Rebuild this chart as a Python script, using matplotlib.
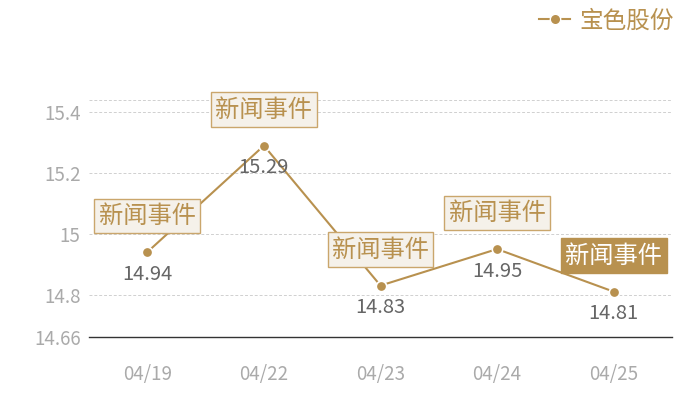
import matplotlib
matplotlib.use("Agg")
import matplotlib.pyplot as plt
from matplotlib.lines import Line2D

plt.rcParams['font.family'] = ['Noto Sans CJK SC', 'DejaVu Sans']

dates = ["04/19", "04/22", "04/23", "04/24", "04/25"]
prices = [14.94, 15.29, 14.83, 14.95, 14.81]
events = ["新闻事件", "新闻事件", "新闻事件", "新闻事件", "新闻事件"]
highlight = [False, False, False, False, True]
yticks = [14.66, 14.8, 15, 15.2, 15.4]
ytick_labels = ["14.66", "14.8", "15", "15.2", "15.4"]
series_name = "宝色股份"

gold = "#b8914f"
edge = "#caa66c"
boxface = "#f5f1ea"

fig = plt.figure(figsize=(7, 4), dpi=100)
ax = fig.add_axes([89/700, (400-337.3)/400, (672-89)/700, (337.3-100)/400])

x = list(range(len(dates)))
ax.plot(x, prices, color=gold, lw=1.5, marker='o', ms=7.5, mfc=gold,
        mec='white', mew=1.2, zorder=3)

ymin = min(prices) - 0.15
ymax = max(prices) + 0.15
ax.set_ylim(ymin, ymax)
ax.set_xlim(-0.5, len(dates) - 0.5)

for yv in yticks[1:] + [ymax]:
    ax.axhline(yv, color="#d0d0d0", lw=0.7, ls=(0, (3, 2)), zorder=1)

ax.set_yticks(yticks)
ax.set_yticklabels(ytick_labels)
ax.set_xticks(x)
ax.set_xticklabels(dates)
ax.tick_params(axis='both', length=0, colors="#aaaaaa", labelsize=13.5)
ax.tick_params(axis='x', pad=19)
ax.tick_params(axis='y', pad=6)

for s in ["top", "right", "left"]:
    ax.spines[s].set_visible(False)
ax.spines["bottom"].set_color("#333333")
ax.spines["bottom"].set_linewidth(1.0)

for xi, p, ev, hl in zip(x, prices, events, highlight):
    ax.annotate(f"{p:.2f}", (xi, p), xytext=(0, -22*0.72), textcoords="offset points",
                ha="center", va="center", fontsize=14.5, color="#666666", zorder=4)
    if hl:
        bb = dict(boxstyle="square,pad=0.18", fc=gold, ec=gold, lw=1)
        tc = "white"
    else:
        bb = dict(boxstyle="square,pad=0.18", fc=boxface, ec=edge, lw=1)
        tc = gold
    ax.annotate(ev, (xi, p), xytext=(0, 36*0.72), textcoords="offset points",
                ha="center", va="center", fontsize=17.5, color=tc, bbox=bb, zorder=5)

handle = Line2D([], [], color=gold, lw=1.5, marker='o', ms=7.5, mfc=gold, mec='white', mew=1)
leg = fig.legend([handle], [series_name], loc="upper right", bbox_to_anchor=(0.993, 1.03),
                 frameon=False, fontsize=17, handlelength=1.3, handletextpad=0.4)
for t in leg.get_texts():
    t.set_color(gold)

fig.savefig("out.png", dpi=100)
